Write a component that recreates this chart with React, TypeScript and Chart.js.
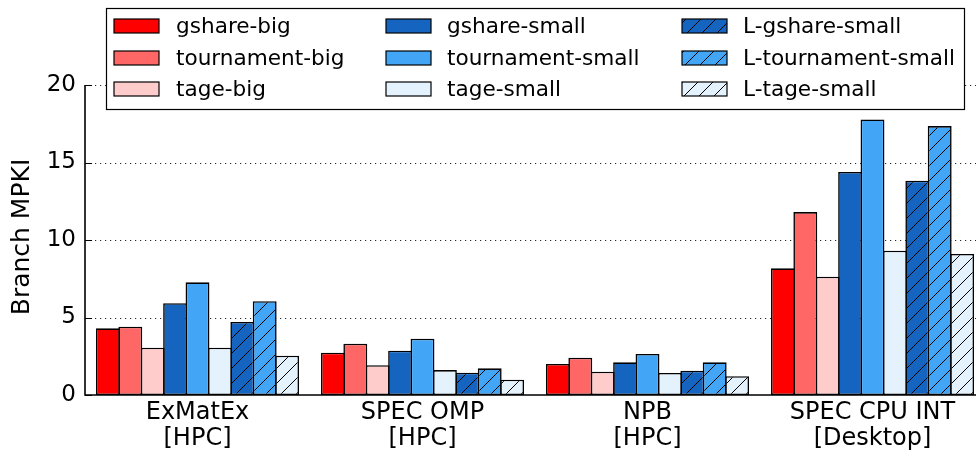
import React, { useEffect, useRef } from 'react';
import { Chart, registerables } from 'chart.js';

Chart.register(...registerables);

const categories: string[][] = [
  ['ExMatEx', '[HPC]'],
  ['SPEC OMP', '[HPC]'],
  ['NPB', '[HPC]'],
  ['SPEC CPU INT', '[Desktop]'],
];

const seriesNames = [
  'gshare-big',
  'tournament-big',
  'tage-big',
  'gshare-small',
  'tournament-small',
  'tage-small',
  'L-gshare-small',
  'L-tournament-small',
  'L-tage-small',
];

const gshareBig = [4.3, 2.73, 2.0, 8.17];
const tournamentBig = [4.41, 3.31, 2.41, 11.8];
const tageBig = [3.05, 1.92, 1.5, 7.63];
const gshareSmall = [5.92, 2.86, 2.11, 14.39];
const tournamentSmall = [7.27, 3.63, 2.65, 17.78];
const tageSmall = [3.05, 1.61, 1.42, 9.31];
const lGshareSmall = [4.71, 1.44, 1.57, 13.83];
const lTournamentSmall = [6.05, 1.72, 2.11, 17.35];
const lTageSmall = [2.54, 0.99, 1.21, 9.1];

const seriesValues = [
  gshareBig,
  tournamentBig,
  tageBig,
  gshareSmall,
  tournamentSmall,
  tageSmall,
  lGshareSmall,
  lTournamentSmall,
  lTageSmall,
];

const seriesColors = [
  '#ff0000',
  '#ff6666',
  '#ffcccc',
  '#1565c0',
  '#42a5f5',
  '#e3f2fd',
  '#1565c0',
  '#42a5f5',
  '#e3f2fd',
];
const seriesHatched = [false, false, false, false, false, false, true, true, true];

const yTicks = [0, 5, 10, 15, 20];
const yTitle = 'Branch MPKI';

const FONT = "'DejaVu Sans', 'Liberation Sans', sans-serif";

function makeFill(ctx: CanvasRenderingContext2D, color: string, hatched: boolean): any {
  if (!hatched) return color;
  const s = 15;
  const c = document.createElement('canvas');
  c.width = s;
  c.height = s;
  const g = c.getContext('2d')!;
  g.fillStyle = color;
  g.fillRect(0, 0, s, s);
  g.strokeStyle = '#000';
  g.lineWidth = 1;
  g.beginPath();
  g.moveTo(0, s);
  g.lineTo(s, 0);
  g.moveTo(-2, 2);
  g.lineTo(2, -2);
  g.moveTo(s - 2, s + 2);
  g.lineTo(s + 2, s - 2);
  g.stroke();
  return ctx.createPattern(c, 'repeat');
}

export default function App() {
  const ref = useRef<HTMLCanvasElement | null>(null);

  useEffect(() => {
    const canvas = ref.current!;
    const ctx = canvas.getContext('2d')!;
    const fills = seriesColors.map((c, i) => makeFill(ctx, c, seriesHatched[i]));

    const decorPlugin = {
      id: 'decor',
      beforeDatasetsDraw(chart: any) {
        const { ctx: c, chartArea: a, scales } = chart;
        const y = scales.y;
        c.save();
        c.strokeStyle = 'rgba(0,0,0,0.85)';
        c.lineWidth = 1;
        c.setLineDash([1.2, 3.8]);
        yTicks.forEach((v) => {
          if (v === 0) return;
          const py = Math.round(y.getPixelForValue(v)) + 0.5;
          c.beginPath();
          c.moveTo(a.left, py);
          c.lineTo(a.right, py);
          c.stroke();
        });
        c.restore();
      },
      afterDatasetsDraw(chart: any) {
        const { ctx: c, chartArea: a, scales } = chart;
        const y = scales.y;
        c.save();
        c.strokeStyle = '#000';
        c.lineWidth = 1;
        c.setLineDash([]);
        yTicks.forEach((v) => {
          const py = Math.round(y.getPixelForValue(v)) + 0.5;
          c.beginPath();
          c.moveTo(a.left, py);
          c.lineTo(a.left + 7, py);
          c.stroke();
        });
        c.lineWidth = 1.6;
        c.beginPath();
        c.moveTo(a.left, a.top);
        c.lineTo(a.left, a.bottom);
        c.lineTo(a.right, a.bottom);
        c.stroke();
        c.restore();
      },
      afterDraw(chart: any) {
        const c: CanvasRenderingContext2D = chart.ctx;
        const a = chart.chartArea;
        c.save();
        // y title
        c.translate(22, (a.top + a.bottom) / 2 - 3);
        c.rotate(-Math.PI / 2);
        c.font = `25px ${FONT}`;
        c.fillStyle = '#000';
        c.textAlign = 'center';
        c.textBaseline = 'middle';
        c.fillText(yTitle, 0, 0);
        c.restore();

        // legend
        c.save();
        const bx = 106.5, by = 8.5, bw = 858, bh = 101;
        c.fillStyle = '#fff';
        c.fillRect(bx, by, bw, bh);
        c.strokeStyle = '#000';
        c.lineWidth = 1.2;
        c.strokeRect(bx, by, bw, bh);
        const colHandleX = [114, 386, 682];
        const colTextX = [176, 447, 743];
        const rowY = [26, 58, 89];
        c.font = `21.6px ${FONT}`;
        c.textBaseline = 'middle';
        c.textAlign = 'left';
        seriesNames.forEach((name, i) => {
          const col = Math.floor(i / 3);
          const row = i % 3;
          const hx = colHandleX[col];
          const hy = rowY[row] - 7;
          c.fillStyle = fills[i];
          c.fillRect(hx, hy, 45, 14);
          c.strokeStyle = '#000';
          c.lineWidth = 1.2;
          c.strokeRect(hx, hy, 45, 14);
          c.fillStyle = '#000';
          c.fillText(name, colTextX[col], rowY[row] + 1);
        });
        c.restore();
      },
    };

    const chart = new Chart(canvas, {
      type: 'bar',
      data: {
        labels: categories,
        datasets: seriesNames.map((name, i) => ({
          label: name,
          data: seriesValues[i],
          backgroundColor: fills[i],
          borderColor: '#000',
          borderWidth: 1.6,
          borderSkipped: false,
          categoryPercentage: 0.896,
          barPercentage: 1.067,
        })),
      },
      options: {
        responsive: false,
        animation: false,
        devicePixelRatio: 1,
        layout: { padding: { top: 85, right: 5, left: 0, bottom: 0 } },
        plugins: {
          legend: { display: false },
          tooltip: { enabled: false },
          title: { display: false },
        },
        scales: {
          x: {
            type: 'category',
            offset: true,
            grid: { display: false, drawTicks: false },
            border: { display: false },
            ticks: {
              color: '#000',
              padding: 4,
              font: { family: FONT, size: 24, lineHeight: 1.11 },
              maxRotation: 0,
              autoSkip: false,
            },
            afterFit: (s: any) => {
              s.height = 63;
            },
          },
          y: {
            type: 'linear',
            min: 0,
            max: 20,
            grid: { display: false, drawTicks: false },
            border: { display: false },
            afterBuildTicks: (s: any) => {
              s.ticks = yTicks.map((v) => ({ value: v }));
            },
            ticks: {
              color: '#000',
              padding: 9,
              font: { family: FONT, size: 23 },
            },
            afterFit: (s: any) => {
              s.width = 85;
            },
          },
        },
      },
      plugins: [decorPlugin],
    });

    return () => chart.destroy();
  }, []);

  return (
    <div
      style={{
        position: 'fixed',
        left: 0,
        top: 0,
        width: 976,
        height: 458,
        overflow: 'hidden',
        background: '#fff',
      }}
    >
      <canvas
        ref={ref}
        width={990}
        height={458}
        style={{ width: 990, height: 458, display: 'block' }}
      />
    </div>
  );
}
